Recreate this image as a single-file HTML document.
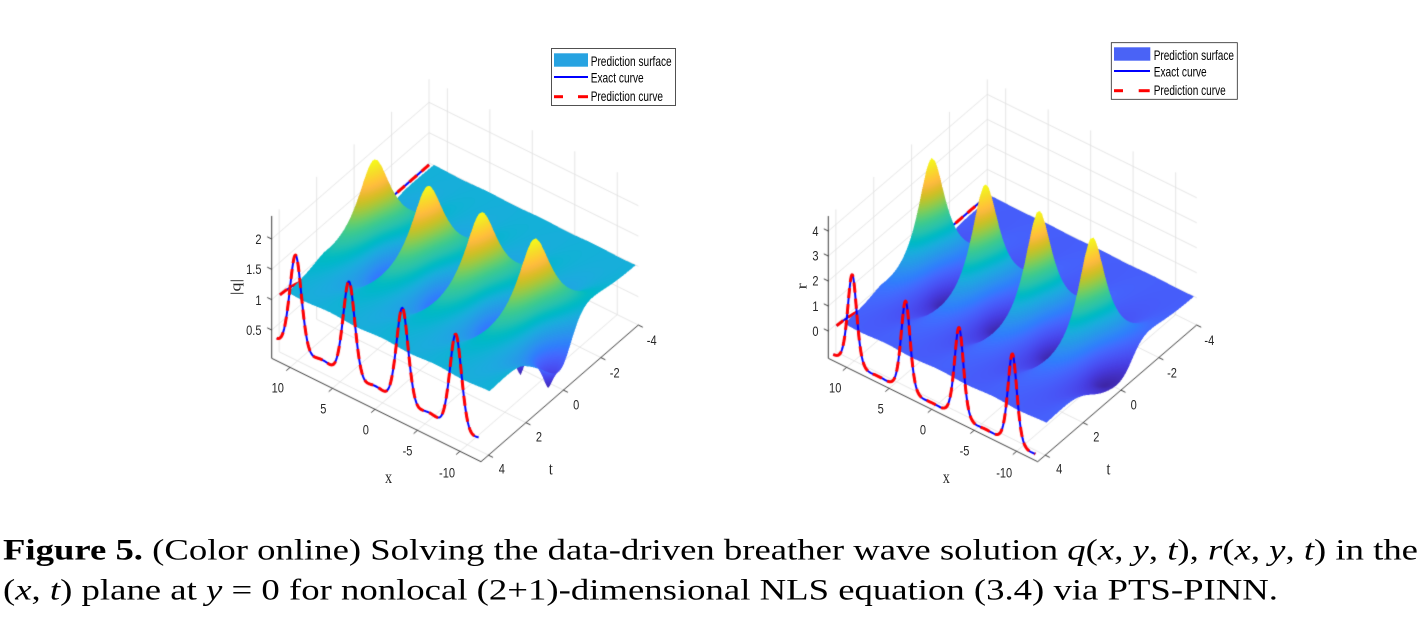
<!DOCTYPE html>
<html><head><meta charset="utf-8">
<style>
html,body{margin:0;padding:0;background:#fff;}
#wrap{position:relative;width:1422px;height:618px;overflow:hidden;background:#fff;}
#cv,#ov{position:absolute;left:0;top:0;}
</style></head><body>
<div id="wrap">
<canvas id="cv" width="1422" height="618"></canvas>
<svg id="ov" width="1422" height="618" xmlns="http://www.w3.org/2000/svg" font-family="'Liberation Sans', Arial, sans-serif" fill="#262626">
<g font-size="14">
<text transform="translate(261.5,239) scale(0.79,1)" text-anchor="end" dy="0.35em">2</text>
<text transform="translate(261.5,269.3) scale(0.79,1)" text-anchor="end" dy="0.35em">1.5</text>
<text transform="translate(261.5,300) scale(0.79,1)" text-anchor="end" dy="0.35em">1</text>
<text transform="translate(261.5,330) scale(0.79,1)" text-anchor="end" dy="0.35em">0.5</text>
<text transform="translate(277.8,387.7) scale(0.79,1)" text-anchor="middle" dy="0.35em">10</text>
<text transform="translate(323.3,408.7) scale(0.79,1)" text-anchor="middle" dy="0.35em">5</text>
<text transform="translate(365.8,429.7) scale(0.79,1)" text-anchor="middle" dy="0.35em">0</text>
<text transform="translate(407.5,450.8) scale(0.79,1)" text-anchor="middle" dy="0.35em">-5</text>
<text transform="translate(447,472.5) scale(0.79,1)" text-anchor="middle" dy="0.35em">-10</text>
<text transform="translate(501.8,468.7) scale(0.79,1)" text-anchor="middle" dy="0.35em">4</text>
<text transform="translate(539,436.7) scale(0.79,1)" text-anchor="middle" dy="0.35em">2</text>
<text transform="translate(576.2,404.7) scale(0.79,1)" text-anchor="middle" dy="0.35em">0</text>
<text transform="translate(614.7,372.5) scale(0.79,1)" text-anchor="middle" dy="0.35em">-2</text>
<text transform="translate(651.7,340.2) scale(0.79,1)" text-anchor="middle" dy="0.35em">-4</text>
</g>
<g font-family="'Liberation Serif', 'Times New Roman', serif" font-size="18">
<text transform="translate(388.5,477.5) scale(0.79,1)" text-anchor="middle" dy="0.3em">x</text>
<text transform="translate(550.8,468.3) scale(0.79,1)" text-anchor="middle" dy="0.35em">t</text>
<text transform="translate(235.5,287) scale(0.79,1) rotate(-90)" text-anchor="middle" dy="0.35em">|q|</text>
</g>
<g font-size="14">
<text transform="translate(818.5,231) scale(0.79,1)" text-anchor="end" dy="0.35em">4</text>
<text transform="translate(818.5,255.7) scale(0.79,1)" text-anchor="end" dy="0.35em">3</text>
<text transform="translate(818.5,280.7) scale(0.79,1)" text-anchor="end" dy="0.35em">2</text>
<text transform="translate(818.5,306) scale(0.79,1)" text-anchor="end" dy="0.35em">1</text>
<text transform="translate(818.5,331) scale(0.79,1)" text-anchor="end" dy="0.35em">0</text>
<text transform="translate(835.2,387.7) scale(0.79,1)" text-anchor="middle" dy="0.35em">10</text>
<text transform="translate(880.7,408.7) scale(0.79,1)" text-anchor="middle" dy="0.35em">5</text>
<text transform="translate(923,429.7) scale(0.79,1)" text-anchor="middle" dy="0.35em">0</text>
<text transform="translate(964.5,450.8) scale(0.79,1)" text-anchor="middle" dy="0.35em">-5</text>
<text transform="translate(1004.2,472.5) scale(0.79,1)" text-anchor="middle" dy="0.35em">-10</text>
<text transform="translate(1059.2,468.7) scale(0.79,1)" text-anchor="middle" dy="0.35em">4</text>
<text transform="translate(1096.3,436.7) scale(0.79,1)" text-anchor="middle" dy="0.35em">2</text>
<text transform="translate(1133.7,404.7) scale(0.79,1)" text-anchor="middle" dy="0.35em">0</text>
<text transform="translate(1172,372.5) scale(0.79,1)" text-anchor="middle" dy="0.35em">-2</text>
<text transform="translate(1209.3,340.2) scale(0.79,1)" text-anchor="middle" dy="0.35em">-4</text>
</g>
<g font-family="'Liberation Serif', 'Times New Roman', serif" font-size="18">
<text transform="translate(946.3,477.5) scale(0.79,1)" text-anchor="middle" dy="0.3em">x</text>
<text transform="translate(1108.5,468.3) scale(0.79,1)" text-anchor="middle" dy="0.35em">t</text>
<text transform="translate(802.2,286.2) scale(0.79,1) rotate(-90)" text-anchor="middle" dy="0.3em">r</text>
</g>
<rect x="551.5" y="48.5" width="124" height="57" fill="#fff" stroke="#262626" stroke-width="0.8"/>
<rect x="554" y="53.3" width="34" height="13.4" fill="#27a3e1"/>
<line x1="554" y1="77" x2="588" y2="77" stroke="#0000ff" stroke-width="2"/>
<line x1="554" y1="96.7" x2="563" y2="96.7" stroke="#ff0000" stroke-width="3"/>
<line x1="578" y1="96.7" x2="588" y2="96.7" stroke="#ff0000" stroke-width="3"/>
<g font-size="14" fill="#000">
<text x="590.7" y="66" textLength="81" lengthAdjust="spacingAndGlyphs">Prediction surface</text>
<text x="590.7" y="82.7" textLength="53" lengthAdjust="spacingAndGlyphs">Exact curve</text>
<text x="590.7" y="101" textLength="72.3" lengthAdjust="spacingAndGlyphs">Prediction curve</text>
</g>
<rect x="1111.3" y="42.7" width="126" height="56.6" fill="#fff" stroke="#262626" stroke-width="0.8"/>
<rect x="1114" y="47.3" width="36.3" height="13.4" fill="#4a63f6"/>
<line x1="1114" y1="71" x2="1150" y2="71" stroke="#0000ff" stroke-width="2"/>
<line x1="1114" y1="90.7" x2="1123" y2="90.7" stroke="#ff0000" stroke-width="3"/>
<line x1="1138.7" y1="90.7" x2="1149.7" y2="90.7" stroke="#ff0000" stroke-width="3"/>
<g font-size="14" fill="#000">
<text x="1153.7" y="60" textLength="80.3" lengthAdjust="spacingAndGlyphs">Prediction surface</text>
<text x="1153.7" y="76.7" textLength="53" lengthAdjust="spacingAndGlyphs">Exact curve</text>
<text x="1153.7" y="95" textLength="72" lengthAdjust="spacingAndGlyphs">Prediction curve</text>
</g>
<g font-family="'Liberation Serif', 'Times New Roman', serif" font-size="30" fill="#000">
<text x="3" y="559.3" textLength="1415" lengthAdjust="spacingAndGlyphs"><tspan font-weight="bold">Figure 5.</tspan> (Color online) Solving the data-driven breather wave solution <tspan font-style="italic">q</tspan>(<tspan font-style="italic">x</tspan>, <tspan font-style="italic">y</tspan>, <tspan font-style="italic">t</tspan>), <tspan font-style="italic">r</tspan>(<tspan font-style="italic">x</tspan>, <tspan font-style="italic">y</tspan>, <tspan font-style="italic">t</tspan>) in the</text>
<text x="3" y="599.5" textLength="1275" lengthAdjust="spacingAndGlyphs">(<tspan font-style="italic">x</tspan>, <tspan font-style="italic">t</tspan>) plane at <tspan font-style="italic">y</tspan> = 0 for nonlocal (2+1)-dimensional NLS equation (3.4) via PTS-PINN.</text>
</g>
</svg>
</div>
<script>
(function(){
var PAR=[[0.2422,0.1504,0.6603],[0.2504,0.1650,0.7076],[0.2578,0.1818,0.7511],[0.2647,0.1978,0.7952],[0.2706,0.2147,0.8364],[0.2751,0.2342,0.8710],[0.2783,0.2559,0.8991],[0.2803,0.2782,0.9221],[0.2813,0.3006,0.9414],[0.2810,0.3228,0.9579],[0.2795,0.3447,0.9717],[0.2760,0.3667,0.9829],[0.2699,0.3892,0.9906],[0.2602,0.4123,0.9952],[0.2440,0.4358,0.9988],[0.2206,0.4603,0.9973],[0.1963,0.4847,0.9892],[0.1834,0.5074,0.9798],[0.1786,0.5289,0.9682],[0.1764,0.5499,0.9520],[0.1687,0.5703,0.9359],[0.1540,0.5902,0.9218],[0.1460,0.6091,0.9079],[0.1380,0.6276,0.8973],[0.1248,0.6459,0.8883],[0.1113,0.6635,0.8763],[0.0952,0.6798,0.8598],[0.0689,0.6948,0.8394],[0.0297,0.7082,0.8163],[0.0036,0.7203,0.7917],[0.0067,0.7312,0.7660],[0.0433,0.7411,0.7394],[0.0964,0.7500,0.7120],[0.1408,0.7584,0.6842],[0.1717,0.7670,0.6554],[0.1938,0.7758,0.6251],[0.2161,0.7843,0.5923],[0.2470,0.7918,0.5567],[0.2906,0.7973,0.5188],[0.3406,0.8008,0.4789],[0.3909,0.8029,0.4354],[0.4456,0.8024,0.3909],[0.5044,0.7993,0.3480],[0.5616,0.7942,0.3045],[0.6174,0.7876,0.2612],[0.6720,0.7793,0.2227],[0.7242,0.7698,0.1910],[0.7738,0.7598,0.1646],[0.8203,0.7498,0.1535],[0.8634,0.7406,0.1596],[0.9035,0.7330,0.1774],[0.9393,0.7288,0.2100],[0.9728,0.7298,0.2394],[0.9956,0.7434,0.2371],[0.9970,0.7659,0.2199],[0.9952,0.7893,0.2028],[0.9892,0.8136,0.1885],[0.9786,0.8386,0.1766],[0.9676,0.8639,0.1643],[0.9610,0.8890,0.1537],[0.9597,0.9135,0.1423],[0.9628,0.9373,0.1265],[0.9691,0.9606,0.1064],[0.9769,0.9839,0.0805]];
var LUT=[];for(var q=0;q<256;q++){var u=q/255*63,ii=Math.min(62,Math.floor(u)),rr=u-ii,A0=PAR[ii],B0=PAR[ii+1];
LUT.push([255*(A0[0]+(B0[0]-A0[0])*rr),255*(A0[1]+(B0[1]-A0[1])*rr),255*(A0[2]+(B0[2]-A0[2])*rr)]);}
var S=0.69,CA=1-2*S*S,CB=2*S*Math.sqrt(1-S*S);
var XP=Math.PI-0.08,TP=0.2,V=1.0,BT=1.3;
function qa(x,t){var th=(x-XP)-V*(t-TP),ph=BT*(t-TP);var c=Math.cosh(ph),sh=Math.sinh(ph),co=Math.cos(th);
var re=CA*c+S*co,im=CB*sh;return Math.sqrt(re*re+im*im)/(c-S*co);}
function slice(x){var ph=0.66,c=Math.cosh(ph),sh=Math.sinh(ph),co=Math.cos(x-XP);var re=CA*c+S*co,im=CB*sh;return Math.sqrt(re*re+im*im)/(c-S*co);}
var gmax=slice(XP),gmin=slice(XP+Math.PI);
function fq(x){return 0.42+(slice(x)-gmin)*(1.93-0.42)/(gmax-gmin);}
function fb(t){return 0.97-0.28*Math.exp(-Math.pow((t-1.5)/1.3,2));}
var XMAX=12.16,XMIN=-12.48,TMAX=4.4,TMIN=-4.0;
var plots=[
 {A:[271.7,358.3],ex:[8.494,4.196],et:[18.73,16.27],sz:60.67,zmin:0.034,zmax:2.38,cl:[0,2.38],zt:[0.5,1,1.5,2],f:function(z){return z;}},
 {A:[828.3,358.3],ex:[8.498,4.196],et:[18.93,16.27],sz:25,zmin:-1.09,zmax:4.6,cl:[-1,4.66],zt:[0,1,2,3,4],f:function(z){return z*z-1;}}
];
var cv=document.getElementById('cv'),ctx=cv.getContext('2d');
ctx.fillStyle='#fff';ctx.fillRect(0,0,1422,618);
function proj(p,x,t,z){return [p.A[0]+(XMAX-x)*p.ex[0]+(TMAX-t)*p.et[0], p.A[1]+(XMAX-x)*p.ex[1]-(TMAX-t)*p.et[1]-(z-p.zmin)*p.sz];}
function seg(a,b,c,w){ctx.beginPath();ctx.moveTo(a[0],a[1]);ctx.lineTo(b[0],b[1]);ctx.strokeStyle=c;ctx.lineWidth=w;ctx.setLineDash([]);ctx.stroke();}
function poly(pts,c,w,dash){ctx.beginPath();ctx.moveTo(pts[0][0],pts[0][1]);for(var i=1;i<pts.length;i++)ctx.lineTo(pts[i][0],pts[i][1]);
ctx.strokeStyle=c;ctx.lineWidth=w;ctx.lineJoin='round';ctx.lineCap='butt';ctx.setLineDash(dash||[]);ctx.stroke();ctx.setLineDash([]);}
var XT=[-10,-5,0,5,10],TT=[-4,-2,0,2,4];
// pass 1: grid + back curves
plots.forEach(function(p){
 var G='#e0e0e0',gw=0.8,i;
 XT.forEach(function(x){seg(proj(p,x,TMIN,p.zmin),proj(p,x,TMAX,p.zmin),G,gw);});
 TT.forEach(function(t){seg(proj(p,XMIN,t,p.zmin),proj(p,XMAX,t,p.zmin),G,gw);});
 TT.forEach(function(t){seg(proj(p,XMAX,t,p.zmin),proj(p,XMAX,t,p.zmax),G,gw);});
 p.zt.forEach(function(z){seg(proj(p,XMAX,TMIN,z),proj(p,XMAX,TMAX,z),G,gw);});
 XT.forEach(function(x){seg(proj(p,x,TMIN,p.zmin),proj(p,x,TMIN,p.zmax),G,gw);});
 p.zt.forEach(function(z){seg(proj(p,XMIN,TMIN,z),proj(p,XMAX,TMIN,z),G,gw);});
 var bc=[];for(i=0;i<=200;i++){var t=TMIN+(3.96-TMIN)*i/200;bc.push(proj(p,XMAX,t,p.f(fb(t))));}
 poly(bc,'#0000ff',2);poly(bc,'#ff0000',3,[10,6]);
});
// pass 2: z-buffer surfaces (2x supersampled)
var SS=2,W=1422*SS,H=618*SS;
var depth=new Float32Array(W*H);depth.fill(-1e9);
var fv=new Float32Array(W*H);
function tri(ax,ay,ad,af,bx,by,bd,bf,cx,cy,cd,cf){
 var minx=Math.max(0,Math.floor(Math.min(ax,bx,cx))),maxx=Math.min(W-1,Math.ceil(Math.max(ax,bx,cx)));
 var miny=Math.max(0,Math.floor(Math.min(ay,by,cy))),maxy=Math.min(H-1,Math.ceil(Math.max(ay,by,cy)));
 var den=(by-cy)*(ax-cx)+(cx-bx)*(ay-cy);if(Math.abs(den)<1e-9)return;
 var E=-1e-3;
 for(var y=miny;y<=maxy;y++){var py=y+0.5;
  for(var x=minx;x<=maxx;x++){var px=x+0.5;
   var w0=((by-cy)*(px-cx)+(cx-bx)*(py-cy))/den;if(w0<E)continue;
   var w1=((cy-ay)*(px-cx)+(ax-cx)*(py-cy))/den;if(w1<E)continue;
   var w2=1-w0-w1;if(w2<E)continue;
   var d=w0*ad+w1*bd+w2*cd,id=y*W+x;
   if(d>depth[id]){depth[id]=d;fv[id]=w0*af+w1*bf+w2*cf;}
  }}
}
var TAN2=0.752;
plots.forEach(function(p){
 var NX=200,NT=130,SX0=-12.17,SX1=11.6,ST0=-4.0,ST1=3.8,i,j;
 var PX=[],PY=[],PD=[],PF=[];
 for(i=0;i<=NX;i++){var x=SX0+(SX1-SX0)*i/NX;PX[i]=[];PY[i]=[];PD[i]=[];PF[i]=[];
  for(j=0;j<=NT;j++){var t=ST0+(ST1-ST0)*j/NT;var z=p.f(qa(x,t));var s=proj(p,x,t,z);
   var fy=p.A[1]+(XMAX-x)*p.ex[1]-(TMAX-t)*p.et[1];
   PX[i][j]=s[0]*SS;PY[i][j]=s[1]*SS;PD[i][j]=fy+TAN2*(z-p.zmin)*p.sz;PF[i][j]=(z-p.cl[0])/(p.cl[1]-p.cl[0]);}}
 for(i=0;i<NX;i++)for(j=0;j<NT;j++){
  tri(PX[i][j],PY[i][j],PD[i][j],PF[i][j],PX[i+1][j],PY[i+1][j],PD[i+1][j],PF[i+1][j],PX[i+1][j+1],PY[i+1][j+1],PD[i+1][j+1],PF[i+1][j+1]);
  tri(PX[i][j],PY[i][j],PD[i][j],PF[i][j],PX[i+1][j+1],PY[i+1][j+1],PD[i+1][j+1],PF[i+1][j+1],PX[i][j+1],PY[i][j+1],PD[i][j+1],PF[i][j+1]);
 }
});
var img=ctx.getImageData(0,0,1422,618),dt=img.data;
for(var y=0;y<618;y++)for(var x=0;x<1422;x++){
 var n=0,r=0,g=0,b=0;
 for(var sy=0;sy<SS;sy++)for(var sx=0;sx<SS;sx++){var id=(y*SS+sy)*W+x*SS+sx;
  if(depth[id]>-1e8){n++;var f=fv[id];if(f<0)f=0;if(f>1)f=1;var c=LUT[Math.round(f*255)];r+=c[0];g+=c[1];b+=c[2];}}
 if(n){var k=(y*1422+x)*4,a=n/(SS*SS),inv=1/(SS*SS);
  dt[k]=dt[k]*(1-a)+r*inv;dt[k+1]=dt[k+1]*(1-a)+g*inv;dt[k+2]=dt[k+2]*(1-a)+b*inv;}
}
ctx.putImageData(img,0,0);
// pass 3: front curves + axes
plots.forEach(function(p){
 var i;
 var fc=[];for(i=0;i<=400;i++){var xx=11.57+(-12.2-11.57)*i/400;fc.push(proj(p,xx,TMAX,p.f(fq(xx))));}
 poly(fc,'#0000ff',2);poly(fc,'#ff0000',3,[10,6]);
 var AX='#262626',aw=0.9;
 seg(proj(p,XMAX,TMAX,p.zmin),proj(p,XMAX,TMAX,p.zmax),AX,aw);
 seg(proj(p,XMAX,TMAX,p.zmin),proj(p,XMIN,TMAX,p.zmin),AX,aw);
 seg(proj(p,XMIN,TMAX,p.zmin),proj(p,XMIN,TMIN,p.zmin),AX,aw);
 var nt=Math.hypot(p.et[0],p.et[1]),nx=Math.hypot(p.ex[0],p.ex[1]),L=5;
 XT.forEach(function(x){var s=proj(p,x,TMAX,p.zmin);seg(s,[s[0]-p.et[0]/nt*L,s[1]+p.et[1]/nt*L],AX,aw);});
 TT.forEach(function(t){var s=proj(p,XMIN,t,p.zmin);seg(s,[s[0]+p.ex[0]/nx*L,s[1]+p.ex[1]/nx*L],AX,aw);});
 p.zt.forEach(function(z){var s=proj(p,XMAX,TMAX,z);seg(s,[s[0]-p.ex[0]/nx*L,s[1]-p.ex[1]/nx*L],AX,aw);});
});
})();
</script>
</body></html>
